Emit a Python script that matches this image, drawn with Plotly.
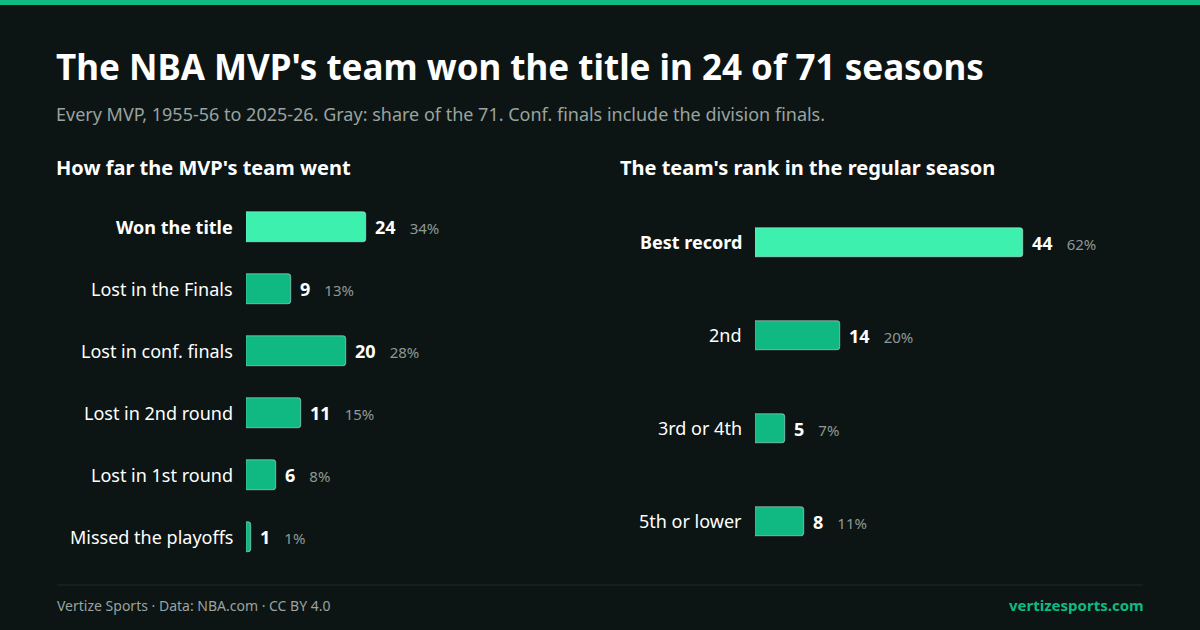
import plotly.graph_objects as go

W, H = 1200, 630
BG = "#0c1513"
MINT = "#3df0ae"
GREEN = "#10b981"

left_cats = ["Won the title", "Lost in the Finals", "Lost in conf. finals",
             "Lost in 2nd round", "Lost in 1st round", "Missed the playoffs"]
left_vals = [24, 9, 20, 11, 6, 1]
left_pcts = ["34%", "13%", "28%", "15%", "8%", "1%"]

right_cats = ["Best record", "2nd", "3rd or 4th", "5th or lower"]
right_vals = [44, 14, 5, 8]
right_pcts = ["62%", "20%", "7%", "11%"]

def px(x): return x / W
def py(y): return 1 - y / H

fig = go.Figure()
yd = [py(568), py(196)]

fig.add_trace(go.Bar(x=left_vals, y=list(range(len(left_vals))), orientation="h",
                     marker=dict(color=[MINT] + [GREEN]*5, cornerradius=3),
                     width=0.48, xaxis="x", yaxis="y", hoverinfo="skip"))
fig.add_trace(go.Bar(x=right_vals, y=list(range(len(right_vals))), orientation="h",
                     marker=dict(color=[MINT] + [GREEN]*3, cornerradius=3),
                     width=0.32, xaxis="x2", yaxis="y2", hoverinfo="skip"))

ax = dict(showgrid=False, zeroline=False, showticklabels=False, fixedrange=True)
fig.update_layout(
    width=W, height=H, margin=dict(l=0, r=0, t=0, b=0),
    paper_bgcolor=BG, plot_bgcolor=BG, showlegend=False, bargap=0,
    font=dict(family="Noto Sans, Open Sans, sans-serif", color="#ffffff"),
    xaxis=dict(domain=[px(246), px(446)], range=[0, 40], **ax),
    yaxis=dict(domain=yd, range=[5.5, -0.5], **ax),
    xaxis2=dict(domain=[px(755), px(1055)], range=[0, 300/6.09], anchor="y2", **ax),
    yaxis2=dict(domain=yd, range=[3.5, -0.5], anchor="x2", **ax),
)

shapes = [
    dict(type="rect", xref="paper", yref="paper", x0=0, x1=1, y0=py(5), y1=1,
         fillcolor=GREEN, line_width=0),
    dict(type="line", xref="paper", yref="paper", x0=px(57), x1=px(1143),
         y0=py(585), y1=py(585), line=dict(color="#1f2a27", width=1)),
]
ann = []
def A(x, y, text, size, color="#ffffff", xanchor="left", **kw):
    ann.append(dict(x=x, y=y, xref="paper", yref="paper", text=text, showarrow=False,
                    xanchor=xanchor, yanchor="middle", font=dict(size=size, color=color), **kw))

A(px(54), py(67), "<b>The NBA MVP's team won the title in 24 of 71 seasons</b>", 35)
A(px(54), py(114), "Every MVP, 1955-56 to 2025-26. Gray: share of the 71. Conf. finals include the division finals.", 18, "#9aa3a0")
A(px(54), py(168), "<b>How far the MVP's team went</b>", 20)
A(px(618), py(168), "<b>The team's rank in the regular season</b>", 20)
A(px(55), py(605), "Vertize Sports · Data: NBA.com · CC BY 4.0", 14, "#9aa3a0")
A(px(1146), py(605), "<b>vertizesports.com</b>", 15, GREEN, xanchor="right")

def val(v, p):
    return f"<b>{v}</b>&nbsp;&nbsp;&nbsp;<span style='font-size:15px;color:#8f9895'>{p}</span>"

for i, (c, v, p) in enumerate(zip(left_cats, left_vals, left_pcts)):
    A(px(235), py(227 + 62*i), f"<b>{c}</b>" if i == 0 else c, 18, xanchor="right")
    ann.append(dict(x=v, y=i, xref="x", yref="y", xanchor="left", yanchor="middle", xshift=7,
                    showarrow=False, font=dict(size=18, color="#ffffff"), text=val(v, p)))
for i, (c, v, p) in enumerate(zip(right_cats, right_vals, right_pcts)):
    A(px(744), py(242 + 93*i), f"<b>{c}</b>" if i == 0 else c, 18, xanchor="right")
    ann.append(dict(x=v, y=i, xref="x2", yref="y2", xanchor="left", yanchor="middle", xshift=7,
                    showarrow=False, font=dict(size=18, color="#ffffff"), text=val(v, p)))

fig.update_layout(shapes=shapes, annotations=ann)
fig.write_html("out.html", config={"displayModeBar": False})
with open("out.html") as f:
    html = f.read()
html = html.replace("<head>", "<head><style>html,body{margin:0;padding:0;background:#0c1513;overflow:hidden}</style>", 1)
with open("out.html", "w") as f:
    f.write(html)
